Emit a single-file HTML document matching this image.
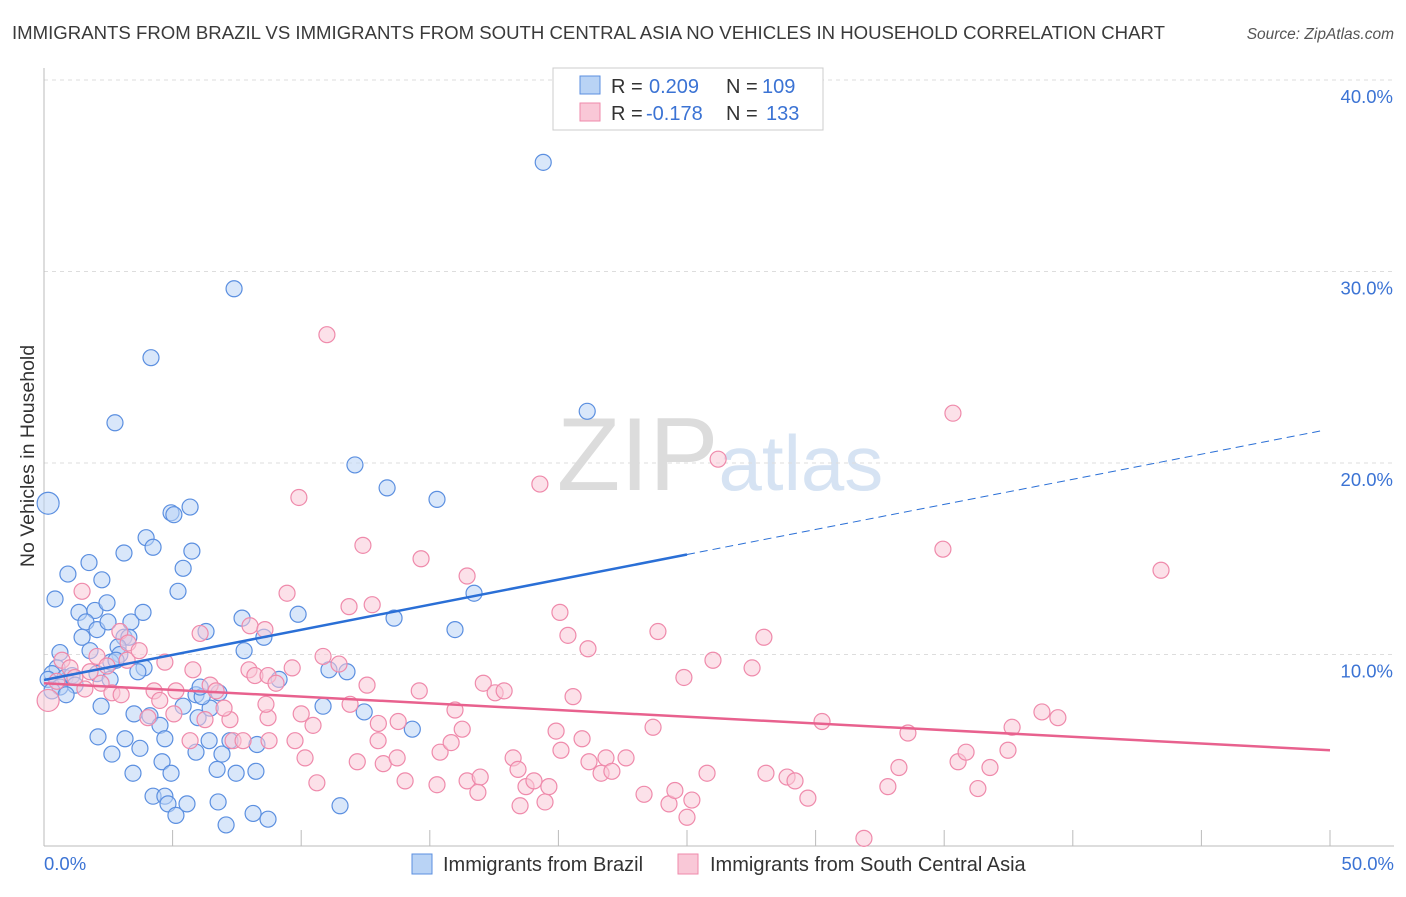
<!DOCTYPE html>
<html><head><meta charset="utf-8">
<style>
body{margin:0;background:#fff;font-family:"Liberation Sans",sans-serif;}
svg text{font-family:"Liberation Sans",sans-serif;}
</style></head>
<body>
<svg id="chart" width="1406" height="892" xmlns="http://www.w3.org/2000/svg">
<text x="12" y="39" font-size="18.6" fill="#3a3a3a">IMMIGRANTS FROM BRAZIL VS IMMIGRANTS FROM SOUTH CENTRAL ASIA NO VEHICLES IN HOUSEHOLD CORRELATION CHART</text>
<text x="1394" y="39" font-size="15.5" fill="#555" font-style="italic" text-anchor="end">Source: ZipAtlas.com</text>
<text transform="translate(34,456) rotate(-90)" font-size="19.5" fill="#333" text-anchor="middle">No Vehicles in Household</text>
<text x="720" y="490" font-size="104" fill="#e4e4e4" text-anchor="middle" font-family="Liberation Serif"><tspan fill="#dcdcdc">ZIP</tspan><tspan fill="#d6e3f3" font-family="Liberation Sans" font-size="78">atlas</tspan></text>
<g id="grid"></g>
<g id="axes"></g>
<g id="pts"></g>
<g id="trends"></g>
<g>
<rect x="553" y="68" width="270" height="62" fill="#fff" stroke="#ccc"/>
<rect x="580" y="76" width="20" height="18" fill="#b9d3f5" stroke="#5b8fe0"/>
<rect x="580" y="103" width="20" height="18" fill="#f9c8d7" stroke="#ef8aab"/>
<text x="611" y="93" font-size="20" fill="#333">R = <tspan x="649" fill="#3b73d4">0.209</tspan><tspan x="726">N = </tspan><tspan x="762" fill="#3b73d4">109</tspan></text>
<text x="611" y="120" font-size="20" fill="#333">R = <tspan x="646" fill="#3b73d4">-0.178</tspan><tspan x="726">N = </tspan><tspan x="766" fill="#3b73d4">133</tspan></text>
</g>
<g>
<rect x="412" y="854" width="20" height="20" fill="#b9d3f5" stroke="#5b8fe0"/>
<text x="443" y="871" font-size="20" fill="#333">Immigrants from Brazil</text>
<rect x="678" y="854" width="20" height="20" fill="#f9c8d7" stroke="#ef8aab"/>
<text x="710" y="871" font-size="20" fill="#333">Immigrants from South Central Asia</text>
</g>
</svg>
<script>
const xTickVals=[0,5,10,15,20,25,30,35,40,45,50];
const yTickVals=[10,20,30,40];
const yTickLabels=["10.0%","20.0%","30.0%","40.0%"];
const xEndLabels=["0.0%","50.0%"];
const blueX=[0.16,0.43,0.93,1.75,2.25,1.36,1.98,2.45,1.63,2.06,2.49,3.38,3.11,3.30,3.85,1.48,1.79,2.88,2.95,2.60,2.80,3.89,3.65,0.62,0.51,0.31,0.16,0.82,1.09,0.62,1.21,0.31,0.86,2.22,3.50,4.12,4.51,4.70,2.10,3.15,3.73,2.64,3.46,4.59,4.94,4.24,4.70,4.82,5.13,5.56,6.77,7.08,8.13,8.71,5.91,6.73,7.47,8.24,6.42,6.92,7.23,8.28,5.99,6.46,5.91,6.15,5.41,9.14,10.85,12.45,14.32,11.51,4.16,2.76,7.39,19.41,21.12,12.09,13.34,15.28,4.94,5.68,3.97,4.24,5.75,5.41,5.21,3.11,6.30,7.70,8.55,7.78,9.88,15.98,16.72,13.61,11.08,11.78,6.80,6.07,2.06,2.57,5.05];
const blueY=[17.9,12.9,14.2,14.8,13.9,12.2,12.3,12.7,11.7,11.3,11.7,11.7,10.9,10.9,12.2,10.9,10.2,10.4,10.0,9.6,9.7,9.3,9.1,10.1,9.3,9.0,8.7,8.8,8.9,8.3,8.4,8.1,7.9,7.3,6.9,6.8,6.3,5.6,5.7,5.6,5.1,4.8,3.8,4.4,3.8,2.6,2.6,2.2,1.6,2.2,2.3,1.1,1.7,1.4,4.9,4.0,3.8,3.9,5.5,4.8,5.5,5.3,6.7,7.2,7.9,7.8,7.3,8.7,7.3,7.0,6.1,2.1,25.5,22.1,29.1,35.7,22.7,19.9,18.7,18.1,17.4,17.7,16.1,15.6,15.4,14.5,13.3,15.3,11.2,11.9,10.9,10.2,12.1,11.3,13.2,11.9,9.2,9.1,8.0,8.3,9.0,8.7,17.3];
const pinkX=[0.16,1.48,0.70,1.01,2.06,1.79,2.45,3.23,2.22,1.59,2.95,3.27,3.70,2.64,4.28,4.70,5.13,5.79,6.46,6.07,6.69,4.04,5.05,5.68,6.26,7.23,7.35,7.74,7.97,8.71,8.63,8.20,8.71,8.01,8.59,9.02,9.65,8.75,9.76,10.15,10.61,10.46,10.85,11.47,11.90,12.18,12.56,12.76,12.99,13.19,13.73,13.77,14.04,14.66,14.59,15.28,15.40,15.83,15.98,16.26,16.45,16.96,16.45,17.08,17.54,17.89,18.24,18.51,18.74,19.05,19.48,19.63,19.91,20.10,20.92,21.19,21.66,21.85,22.08,22.63,23.33,24.30,24.53,25.00,25.19,25.78,28.07,28.89,29.20,29.70,30.25,31.88,32.81,33.24,33.59,35.54,35.85,36.31,36.78,37.48,37.64,38.80,39.42,20.57,20.06,21.15,20.37,23.87,24.88,26.01,27.53,27.99,34.95,35.34,43.43,26.21,19.28,11.00,9.91,12.40,9.45,11.86,23.68,16.87,18.43,0.5,1.2,3.0,4.5,7.0,10.0,13.0];
const pinkY=[7.6,13.3,9.7,9.3,9.9,9.1,9.4,9.7,8.5,8.2,11.2,10.6,10.2,8.0,8.1,9.6,8.1,9.2,8.4,11.1,8.1,6.7,6.9,5.5,6.6,6.6,5.5,5.5,9.2,6.7,7.4,8.9,8.9,11.5,11.3,8.5,9.3,5.5,5.5,4.6,3.3,6.3,9.9,9.5,7.4,4.4,8.4,12.6,5.5,4.3,4.6,6.5,3.4,15.0,8.1,3.2,4.9,5.4,7.1,6.1,3.4,3.6,14.1,8.5,8.0,8.1,4.6,2.1,3.1,3.4,2.3,3.1,6.0,5.0,5.6,4.4,3.8,4.6,3.9,4.6,2.7,2.2,2.9,1.5,2.4,3.8,3.8,3.6,3.4,2.5,6.5,0.4,3.1,4.1,5.9,4.4,4.9,3.0,4.1,5.0,6.2,7.0,6.7,7.8,12.2,10.3,11.0,11.2,8.8,9.7,9.3,10.9,15.5,22.6,14.4,20.2,18.9,26.7,18.2,15.7,13.2,12.5,6.2,2.8,4.0,8.6,8.8,7.9,7.6,7.2,6.9,6.4];
const blueTrend=[8.67,0.262]; // intercept, slope
const pinkTrend=[8.5,-0.07];
const blueSolidEnd=25, blueDashEnd=49.8, pinkEnd=50;

const X0=44,X1=1330,Y0=846,PXY=19.15;
const sx=v=>X0+(X1-X0)*v/50;
const sy=v=>Y0-v*PXY;
const NS="http://www.w3.org/2000/svg";
function mk(tag,attrs,parent){const e=document.createElementNS(NS,tag);for(const k in attrs)e.setAttribute(k,attrs[k]);parent.appendChild(e);return e;}
const grid=document.getElementById('grid'),axes=document.getElementById('axes'),pts=document.getElementById('pts'),tr=document.getElementById('trends');
yTickVals.forEach((v,i)=>{
  const l=mk('line',{x1:X0,x2:1394,y1:sy(v),y2:sy(v),stroke:'#ddd','stroke-dasharray':'4,4'},grid);
  
  
  const t=mk('text',{x:1393,y:sy(v)+23,'font-size':18.5,fill:'#3b73d4','text-anchor':'end'},axes);
  t.textContent=yTickLabels[i];
  
  
});
const al=mk('line',{x1:X0,x2:X0,y1:68,y2:Y0,stroke:'#bbb'},axes);


const bl=mk('line',{x1:X0,x2:1394,y1:Y0,y2:Y0,stroke:'#bbb'},axes);


xTickVals.forEach(v=>{
  const l=mk('line',{x1:sx(v),x2:sx(v),y1:Y0-16,y2:Y0,stroke:'#bbb'},axes);
  
  
});
const t0=mk('text',{x:44,y:870,'font-size':18.5,fill:'#3b73d4'},axes);t0.textContent=xEndLabels[0];


const t1=mk('text',{x:1394,y:870,'font-size':18.5,fill:'#3b73d4','text-anchor':'end'},axes);t1.textContent=xEndLabels[1];


function dots(xs,ys,fill,stroke,name){xs.forEach((x,i)=>{
  const r=(i===0)?11:8;
  const c=mk('circle',{cx:sx(x),cy:sy(ys[i]),r:r,fill:fill,'fill-opacity':0.55,stroke:stroke,'stroke-width':1.2},pts);
  
  
});}
dots(blueX,blueY,'#b9d3f5','#5b8fe0','brazil-point');
dots(pinkX,pinkY,'#f9c8d7','#ef8aab','south-central-asia-point');
const f=(t,x)=>t[0]+t[1]*x;
const b1=mk('line',{x1:sx(0),y1:sy(f(blueTrend,0)),x2:sx(blueSolidEnd),y2:sy(f(blueTrend,blueSolidEnd)),stroke:'#2a6fd6','stroke-width':2.5},tr);


const b2=mk('line',{x1:sx(blueSolidEnd),y1:sy(f(blueTrend,blueSolidEnd)),x2:sx(blueDashEnd),y2:sy(f(blueTrend,blueDashEnd)),stroke:'#2a6fd6','stroke-width':1,'stroke-dasharray':'8,5'},tr);


const p1=mk('line',{x1:sx(0),y1:sy(f(pinkTrend,0)),x2:sx(pinkEnd),y2:sy(f(pinkTrend,pinkEnd)),stroke:'#e8618e','stroke-width':2.5},tr);


</script>
</body></html>
